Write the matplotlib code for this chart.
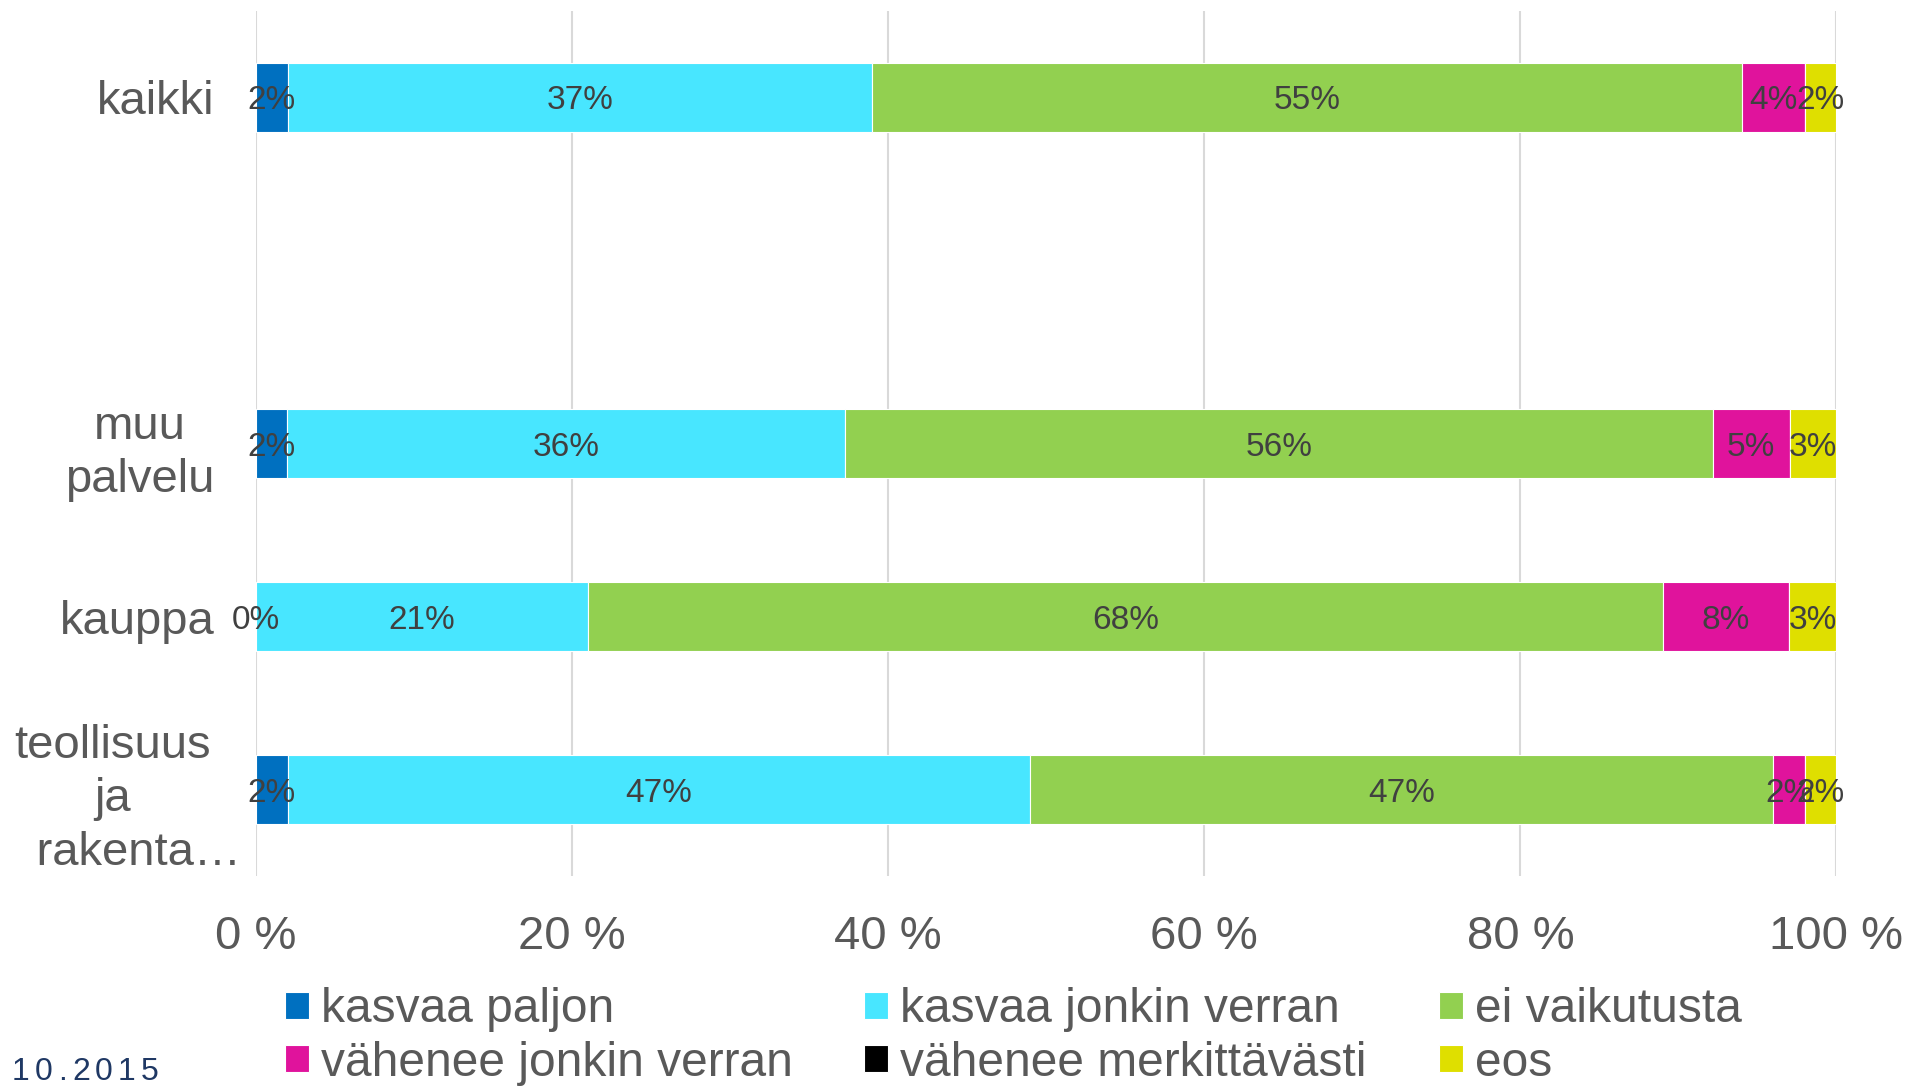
import numpy as np
import matplotlib
matplotlib.use("Agg")
from matplotlib import pyplot as plt
from matplotlib.transforms import ScaledTranslation

plt.rcParams['font.family'] = ['Liberation Sans', 'DejaVu Sans']

# categories top to bottom (blank slot between kaikki and muu palvelu)
categories = ["kaikki", "", "muu\npalvelu", "kauppa", "teollisuus\nja\n    rakenta…"]
series_names = ["kasvaa paljon", "kasvaa jonkin verran", "ei vaikutusta",
                "vähenee jonkin verran", "vähenee merkittävästi", "eos"]
kasvaa_paljon = [2, np.nan, 2, 0, 2]
kasvaa_jonkin = [37, np.nan, 36, 21, 47]
ei_vaikutusta = [55, np.nan, 56, 68, 47]
vahenee_jonkin = [4, np.nan, 5, 8, 2]
vahenee_merk = [np.nan, np.nan, np.nan, np.nan, np.nan]
eos = [2, np.nan, 3, 3, 2]
colors = ["#0070C0", "#48E6FF", "#92D050", "#E0139C", "#000000", "#DFDF00"]
xticks = [0, 20, 40, 60, 80, 100]

data = np.array([kasvaa_paljon, kasvaa_jonkin, ei_vaikutusta,
                 vahenee_jonkin, vahenee_merk, eos], dtype=float)
totals = np.nansum(data, axis=0)
has_data = totals > 0
totals[~has_data] = 1
shares = np.nan_to_num(data) / totals * 100  # 100 % stacked

fig = plt.figure(figsize=(19.11, 10.86), dpi=100)
ax = fig.add_axes([0.134, 0.193, 0.827, 0.797])

y = np.arange(len(categories))
left = np.zeros(len(categories))
handles = []
for i, name in enumerate(series_names):
    bars = ax.barh(y[has_data], shares[i][has_data], left=left[has_data], height=0.4,
                   color=colors[i], edgecolor="white", linewidth=0.8, label=name, zorder=3)
    handles.append(bars)
    for j in range(len(categories)):
        if np.isnan(data[i, j]):
            continue
        ax.text(left[j] + shares[i, j] / 2, y[j], f"{data[i, j]:.0f}%",
                ha="center", va="center_baseline", fontsize=24, color="#404040", zorder=4)
    left += shares[i]

ax.set_xlim(0, 100)
ax.set_ylim(len(categories) - 0.5, -0.5)
ax.set_xticks(xticks)
ax.set_xticklabels([f"{t} %" for t in xticks])
ax.set_yticks(y)
ax.set_yticklabels(categories, multialignment="center", linespacing=1.27)
ax.tick_params(axis="x", length=0, pad=28, labelsize=34, labelcolor="#595959")
ax.tick_params(axis="y", length=0, pad=30, labelsize=34, labelcolor="#595959")
ax.grid(axis="x", color="#D9D9D9", linewidth=1.5, zorder=0)
ax.grid(axis="y", visible=False)
for s in ax.spines.values():
    s.set_visible(False)

# truncated label overflows to the right like in the original
last = ax.get_yticklabels()[-1]
last.set_transform(last.get_transform() + ScaledTranslation(0.27, 0, fig.dpi_scale_trans))

# legend filled column-wise, so reorder for row layout
order = [0, 3, 1, 4, 2, 5]
leg = fig.legend([handles[k] for k in order], [series_names[k] for k in order],
                 ncol=3, loc="upper left", bbox_to_anchor=(0.149, 0.091),
                 frameon=False, fontsize=34.5, borderpad=0, borderaxespad=0,
                 handlelength=0.5, handleheight=0.5, handletextpad=0.25,
                 columnspacing=1.5, labelspacing=0.18)
for t in leg.get_texts():
    t.set_color("#595959")

# letter-spaced date stamp
x = 12
for ch in "10.2015":
    fig.text(x / 1911, 1 - 1080 / 1086, ch, fontsize=23, color="#1F3864",
             ha="left", va="baseline")
    x += 14 if ch == "." else 23

fig.savefig("out.png", dpi=100)
